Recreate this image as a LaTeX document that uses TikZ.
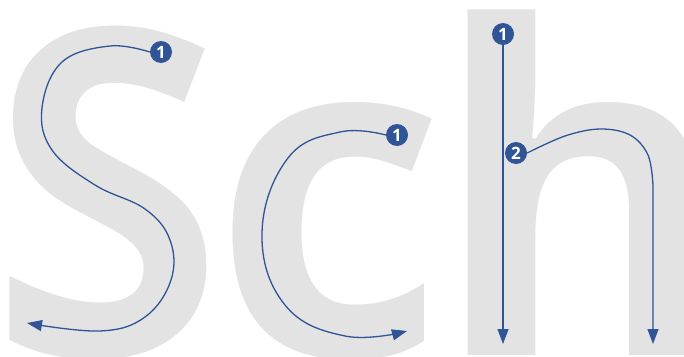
\documentclass[tikz,border=0pt]{standalone}
\usepackage{fontspec}
\setmainfont{Open Sans}
\usetikzlibrary{arrows.meta}
\definecolor{glyphgray}{HTML}{E3E3E3}
\definecolor{penblue}{HTML}{2F5597}
\tikzset{
  glyph/.style={anchor=base west, inner sep=0pt, text=glyphgray,
    font=\fontsize{455}{455}\selectfont\bfseries},
  num/.style={circle, fill=penblue, inner sep=0pt, minimum size=22pt,
    text=white, font=\fontsize{17}{17}\selectfont\bfseries},
  stroke/.style={penblue, line width=1.3pt, -{Triangle[length=15pt,width=11pt]}}
}
\begin{document}
\begin{tikzpicture}[x=1pt,y=-1pt]
\useasboundingbox (0,0) rectangle (684,356);
\begin{scope}
\clip (0,0) rectangle (684,356);
\node[glyph, xscale=0.93] (S) at (-10,355) {S};
\node[glyph] (c) at (212,355) {c};
\node[glyph] (h) at (432,355) {h};
\end{scope}
% S
\node[num] (s1) at (161,52) {1};
\coordinate (s end) at (27,323);
\draw[stroke] plot[smooth, tension=0.65] coordinates {(s1.west) (110,46) (62,62)
  (42,108) (52,150) (95,185) (145,209) (170,240) (171,280) (145,317)
  (100,331) (s end)};
% c
\node[num] (c1) at (397,135) {1};
\coordinate (c end) at (407,331);
\draw[stroke] plot[smooth, tension=0.7] coordinates {(c1.west) (340,132) (288,158)
  (262,233) (285,305) (345,336) (c end)};
% h
\node[num] (h1) at (503,34) {1};
\coordinate (h1 end) at (503,344);
\draw[stroke] (h1.south) -- (h1 end);
\node[num] (h2) at (516,153) {2};
\coordinate (h2 end) at (653,344);
\draw[stroke] plot[smooth, tension=0.6] coordinates {(h2.east) (565,136) (600,129) (630,135)
  (648,155) (653,185)} -- (h2 end);
\end{tikzpicture}
\end{document}
